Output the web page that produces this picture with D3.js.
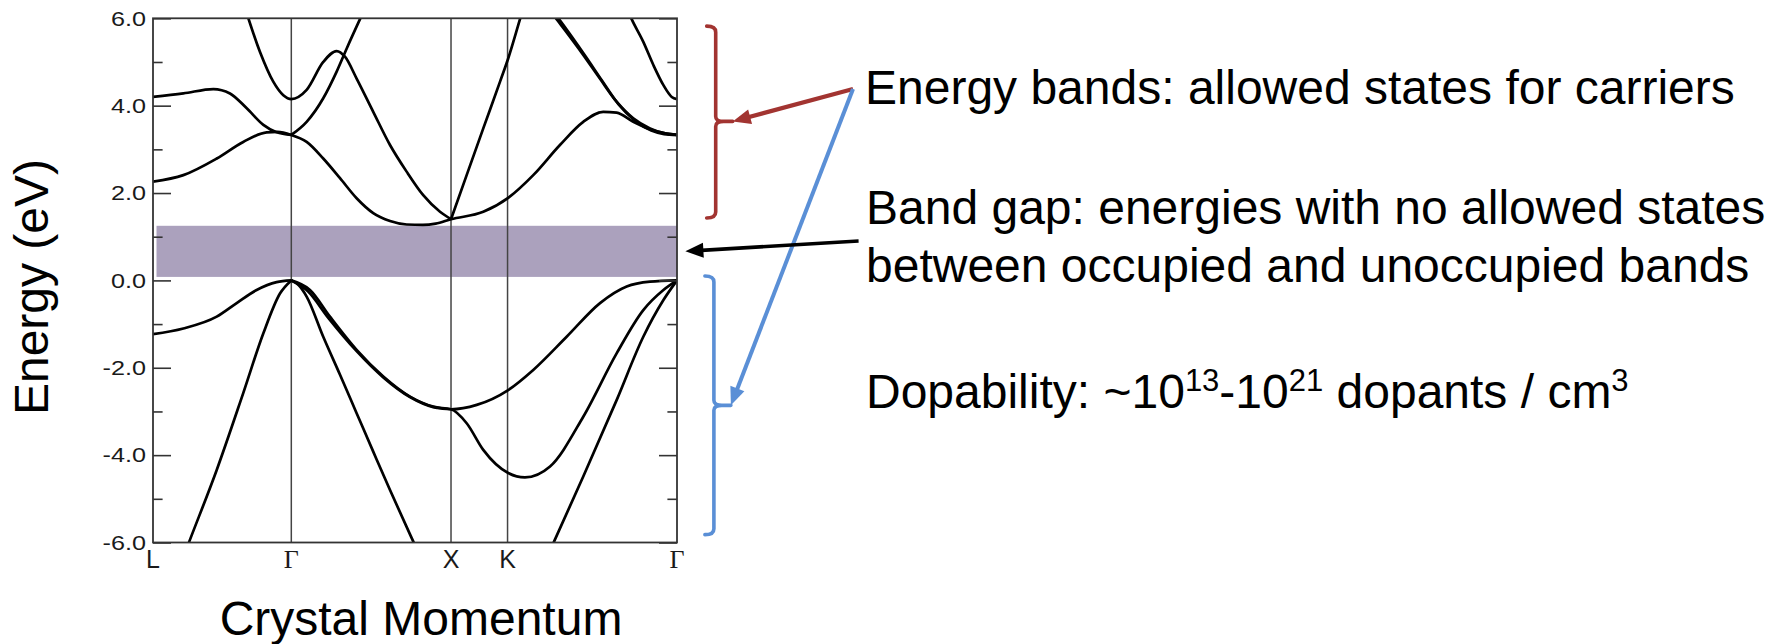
<!DOCTYPE html>
<html lang="en">
<head>
  <meta charset="UTF-8" />
  <title>Band Structure</title>
  <style>
    body {
      margin: 0;
      background-color: #fff;
    }

    svg {
      display: block;
      font-family: "Liberation Sans", Arial, sans-serif;
    }

    .frame {
      fill: none;
      stroke: #333;
      stroke-width: 1.8;
    }

    .kline {
      stroke: #444;
      stroke-width: 1.5;
    }

    .band {
      fill: none;
      stroke: #000;
      stroke-width: 2.7;
      stroke-linejoin: round;
    }

    .gap {
      fill: #aba1bd;
    }

    .big {
      font-size: 48px;
      fill: #000;
    }
  </style>
</head>

<body>
  <svg width="1767" height="644"></svg>

  <script src="https://d3js.org/d3.v7.min.js"></script>
  <script>
    // high-symmetry points along the path
    const kLabels = ["L", "Γ", "X", "K", "Γ"];
    const kPositions = [0, 0.866, 1.866, 2.220, 3.281];

    const energyTicks = [-6, -4, -2, 0, 2, 4, 6];
    const minorTicks = [-5, -3, -1, 1, 3, 5];
    const bandGap = [0.08, 1.25];

    // bands: [k, energy in eV]
    const cbLow = [[0, 2.26], [0.19, 2.41], [0.399, 2.79], [0.565, 3.17], [0.712, 3.39], [0.78, 3.40], [0.866, 3.33]];
    const cbHigh = [[0, 4.20], [0.19, 4.28], [0.378, 4.38], [0.482, 4.28], [0.587, 3.94], [0.691, 3.56], [0.774, 3.39], [0.866, 3.33]];
    const cbPeak = [[0.575, 6.25], [0.670, 5.23], [0.753, 4.55], [0.816, 4.24], [0.866, 4.15], [0.962, 4.36], [1.066, 5.00],
      [1.150, 5.25], [1.202, 5.12], [1.275, 4.62], [1.379, 3.86], [1.484, 3.10], [1.588, 2.49], [1.692, 1.95], [1.797, 1.57], [1.866, 1.40]];
    const cbRise = [[0.866, 3.33], [0.962, 3.63], [1.066, 4.17], [1.150, 4.78], [1.213, 5.31], [1.296, 5.98], [1.325, 6.21]];
    const cbMin = [[0.866, 3.33], [0.962, 3.17], [1.066, 2.79], [1.171, 2.34], [1.275, 1.88], [1.379, 1.54], [1.484, 1.36],
      [1.588, 1.28], [1.69, 1.27], [1.77, 1.30], [1.866, 1.40], [2.068, 1.57], [2.224, 1.89], [2.381, 2.41], [2.548, 3.10],
      [2.694, 3.63], [2.819, 3.86], [2.903, 3.84], [3.007, 3.63], [3.112, 3.46], [3.20, 3.37], [3.281, 3.33]];
    const cbSteep = [[1.866, 1.40], [1.964, 2.41], [2.068, 3.48], [2.173, 4.55], [2.224, 5.08], [2.298, 5.98], [2.316, 6.2]];
    const cbPairA = [[2.49, 6.16], [2.527, 5.98], [2.694, 5.16], [2.798, 4.62], [2.903, 4.09], [3.007, 3.71], [3.112, 3.48], [3.20, 3.37], [3.281, 3.33]];
    const cbPairB = [[2.505, 6.16], [2.542, 5.98], [2.706, 5.14], [2.81, 4.58], [2.915, 4.03], [3.02, 3.65], [3.12, 3.43], [3.20, 3.35], [3.281, 3.33]];
    const cbTop = [[2.975, 6.16], [2.997, 5.98], [3.070, 5.46], [3.133, 4.93], [3.196, 4.47], [3.248, 4.20], [3.281, 4.15]];

    const vbLight = [[0, -1.23], [0.19, -1.10], [0.399, -0.83], [0.524, -0.52], [0.649, -0.22], [0.774, -0.04], [0.866, 0]];
    const vbDeepL = [[0.2, -6.24], [0.227, -5.98], [0.399, -4.34], [0.565, -2.58], [0.691, -1.21], [0.795, -0.30], [0.866, 0]];
    const vbHeavy = [[0.866, 0], [0.983, -0.22], [1.108, -0.83], [1.275, -1.59], [1.442, -2.20], [1.609, -2.66], [1.755, -2.89],
      [1.866, -2.95], [2.027, -2.85], [2.224, -2.51], [2.381, -2.05], [2.590, -1.29], [2.799, -0.52], [2.966, -0.14], [3.112, -0.03], [3.281, 0]];
    const vbHeavy2 = [[0.866, 0], [0.97, -0.25], [1.10, -0.87], [1.275, -1.62], [1.442, -2.22], [1.609, -2.67], [1.755, -2.90],
      [1.866, -2.95], [1.964, -3.27], [2.068, -3.88], [2.224, -4.41], [2.329, -4.51], [2.486, -4.26], [2.694, -3.12],
      [2.903, -1.67], [3.070, -0.68], [3.196, -0.22], [3.281, 0]];
    const vbDeepM = [[0.866, 0], [0.91, -0.10], [0.962, -0.37], [1.066, -1.29], [1.171, -2.16], [1.275, -3.04], [1.379, -3.92],
      [1.484, -4.80], [1.630, -5.98], [1.66, -6.22]];
    const vbDeepR = [[2.48, -6.23], [2.511, -5.98], [2.694, -4.49], [2.903, -2.74], [3.070, -1.29], [3.196, -0.45], [3.281, 0]];

    const bands = [cbLow, cbHigh, cbPeak, cbRise, cbMin, cbSteep, cbPairA, cbPairB, cbTop,
      vbLight, vbDeepL, vbHeavy, vbHeavy2, vbDeepM, vbDeepR];

    const svg = d3.select("svg");

    const x = d3.scaleLinear().domain([0, 3.281]).range([153, 677]);
    const y = d3.scaleLinear().domain([-6, 6]).range([542.5, 18.3]);

    svg.append("defs").append("clipPath")
      .attr("id", "plot-clip")
      .append("rect")
      .attr("x", x(0))
      .attr("y", y(6))
      .attr("width", x(3.281) - x(0))
      .attr("height", y(-6) - y(6));

    // band gap
    svg.append("rect")
      .attr("class", "gap")
      .attr("x", x(0) + 3.5)
      .attr("y", y(bandGap[1]))
      .attr("width", x(3.281) - x(0) - 3.5)
      .attr("height", y(bandGap[0]) - y(bandGap[1]));

    // vertical lines at the inner symmetry points
    kPositions.slice(1, 4).forEach(k => {
      svg.append("line")
        .attr("class", "kline")
        .attr("x1", x(k)).attr("x2", x(k))
        .attr("y1", y(6)).attr("y2", y(-6));
    });

    const line = d3.line()
      .x(d => x(d[0]))
      .y(d => y(d[1]))
      .curve(d3.curveMonotoneX);

    svg.append("g")
      .attr("clip-path", "url(#plot-clip)")
      .selectAll("path")
      .data(bands)
      .enter()
      .append("path")
      .attr("class", "band")
      .attr("d", line);

    // axes: ticks point inward
    function styleAxis(g) {
      g.select(".domain").remove();
      g.selectAll(".tick line").attr("stroke", "#333").attr("stroke-width", 1.6);
    }

    svg.append("g")
      .attr("transform", `translate(${x(0)},0)`)
      .call(d3.axisLeft(y).tickValues(energyTicks).tickSizeInner(-18).tickSizeOuter(0)
        .tickPadding(5.8).tickFormat(d => d.toFixed(1)))
      .call(styleAxis)
      .call(g => g.selectAll("text")
        .attr("font-family", "'Liberation Sans', Arial, sans-serif")
        .attr("font-size", 21)
        .attr("fill", "#1a1a1a")
        .attr("transform", "scale(1.2,1)"));

    svg.append("g")
      .attr("transform", `translate(${x(0)},0)`)
      .call(d3.axisLeft(y).tickValues(minorTicks).tickSizeInner(-9.6).tickSizeOuter(0).tickFormat(""))
      .call(styleAxis);

    svg.append("g")
      .attr("transform", `translate(${x(3.281)},0)`)
      .call(d3.axisRight(y).tickValues(energyTicks).tickSizeInner(-18).tickSizeOuter(0).tickFormat(""))
      .call(styleAxis);

    svg.append("g")
      .attr("transform", `translate(${x(3.281)},0)`)
      .call(d3.axisRight(y).tickValues(minorTicks).tickSizeInner(-9.6).tickSizeOuter(0).tickFormat(""))
      .call(styleAxis);

    svg.append("rect")
      .attr("class", "frame")
      .attr("x", x(0))
      .attr("y", y(6))
      .attr("width", x(3.281) - x(0))
      .attr("height", y(-6) - y(6));

    kLabels.forEach((label, i) => {
      svg.append("text")
        .attr("x", x(kPositions[i]))
        .attr("y", 568)
        .attr("text-anchor", "middle")
        .attr("font-size", label === "Γ" ? 26 : 25)
        .attr("font-family", label === "Γ" ? "'Liberation Serif', serif" : null)
        .attr("fill", "#1a1a1a")
        .text(label);
    });

    // axis titles
    svg.append("text")
      .attr("class", "big")
      .attr("transform", "translate(48,287) rotate(-90)")
      .attr("text-anchor", "middle")
      .text("Energy (eV)");

    svg.append("text")
      .attr("class", "big")
      .attr("x", 421)
      .attr("y", 635)
      .attr("text-anchor", "middle")
      .text("Crystal Momentum");

    // annotations
    const red = "#a23431";
    const blue = "#5a8fd6";

    function brace(xv, eTop, eBot, eMid, color) {
      const t = y(eTop), b = y(eBot), m = y(eMid);
      svg.append("path")
        .attr("d", `M${xv - 9},${t} Q${xv},${t} ${xv},${t + 6} L${xv},${m - 5} Q${xv},${m} ${xv + 8},${m} L${xv + 17},${m}
                    M${xv + 8},${m} Q${xv},${m} ${xv},${m + 5} L${xv},${b - 6} Q${xv},${b} ${xv - 9},${b}`)
        .attr("fill", "none")
        .attr("stroke", color)
        .attr("stroke-width", 3.6)
        .attr("stroke-linecap", "round");
      return [xv + 17, m];
    }

    function arrow(x1, y1, x2, y2, color, w) {
      const len = Math.hypot(x2 - x1, y2 - y1);
      const ux = (x2 - x1) / len, uy = (y2 - y1) / len;
      const hl = 18, hw = 7.5;
      svg.append("line")
        .attr("x1", x1).attr("y1", y1)
        .attr("x2", x2 - ux * (hl - 2)).attr("y2", y2 - uy * (hl - 2))
        .attr("stroke", color)
        .attr("stroke-width", w);
      const bx = x2 - ux * hl, by = y2 - uy * hl;
      svg.append("path")
        .attr("d", `M${x2},${y2} L${bx - uy * hw},${by + ux * hw} L${bx + uy * hw},${by - ux * hw} Z`)
        .attr("fill", color);
    }

    const redTip = brace(715.7, 5.82, 1.43, 3.64, red);
    const blueTip = brace(713.9, 0.10, -5.82, -2.86, blue);

    arrow(853, 89, redTip[0], redTip[1], red, 4.2);
    arrow(853, 89, blueTip[0], blueTip[1], blue, 4);
    arrow(858.6, 241, 685.4, y((bandGap[0] + bandGap[1]) / 2), "#000", 3.6);

    svg.append("text")
      .attr("class", "big")
      .attr("x", 865)
      .attr("y", 104)
      .text("Energy bands: allowed states for carriers");

    svg.append("text")
      .attr("class", "big")
      .attr("x", 866)
      .attr("y", 224)
      .text("Band gap: energies with no allowed states");

    svg.append("text")
      .attr("class", "big")
      .attr("x", 866)
      .attr("y", 282)
      .text("between occupied and unoccupied bands");

    const dopingParts = [["Dopability: ~10", false], ["13", true], ["-10", false], ["21", true], [" dopants / cm", false], ["3", true]];

    const dop = svg.append("text")
      .attr("class", "big")
      .attr("x", 866)
      .attr("y", 408);

    let raised = false;
    dopingParts.forEach(([str, sup]) => {
      const ts = dop.append("tspan").text(str);
      if (sup && !raised) ts.attr("dy", -17);
      if (!sup && raised) ts.attr("dy", 17);
      if (sup) ts.attr("font-size", 31);
      raised = sup;
    });
  </script>

</body>
</html>
